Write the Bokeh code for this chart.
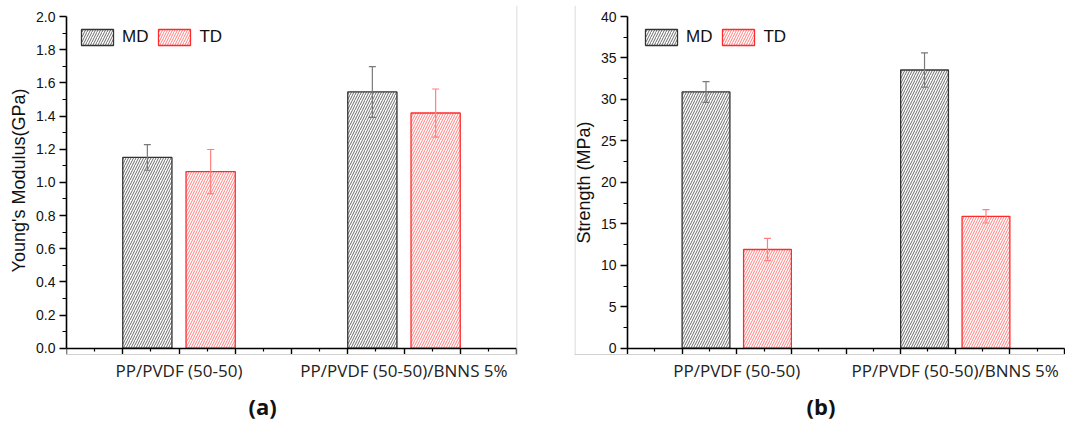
from bokeh.plotting import figure
from bokeh.models import (ColumnDataSource, FixedTicker, Whisker, TeeHead, Span, Title,
                          Legend, LegendItem, PrintfTickFormatter, Range1d, LinearAxis)
from bokeh.layouts import row
from bokeh.embed import file_html
from bokeh.resources import INLINE

# ---------------- data ----------------
categories = ["PP/PVDF (50-50)", "PP/PVDF (50-50)/BNNS 5%"]
series = ["MD", "TD"]

modulus_md = [1.15, 1.545]
modulus_md_err = [0.077, 0.153]
modulus_td = [1.065, 1.418]
modulus_td_err = [0.133, 0.145]

strength_md = [30.9, 33.55]
strength_md_err = [1.25, 2.07]
strength_td = [11.9, 15.9]
strength_td_err = [1.35, 0.8]

modulus_ticks = [0.0, 0.2, 0.4, 0.6, 0.8, 1.0, 1.2, 1.4, 1.6, 1.8, 2.0]
strength_ticks = [0, 5, 10, 15, 20, 25, 30, 35, 40]
panel_labels = ["(a)", "(b)"]
y_titles = ["Young's Modulus(GPa)", "Strength (MPa)"]

# ---------------- styling / layout constants ----------------
GROUP_POS = [2, 6]
OFFSET = 0.5625
BAR_W = 0.875
MD_LINE, MD_HATCH, MD_ERR = "#333333", "#5a5a5a", "#7a7a7a"
TD_LINE, TD_HATCH, TD_ERR = "#ff2b2b", "#ff7070", "#ff8080"
GRAY = "#d0d0d0"
SANS = "Liberation Sans"
H = 425
FRAME_TOP, FRAME_BOTTOM = 5, 355      # canvas px of frame
AXIS_TOP, AXIS_ZERO = 16.0, 347.7     # canvas px of y max and y = 0
GRAY_Y = 354.0


def make_panel(md, md_err, td, td_err, yticks, ytitle, ylab_fmt, plabel,
               width, left, right, x_axis_px, px_per_x, legend_x,
               gray_x_px, title_offset, fixed_y):
    ymax = yticks[-1]
    ppy = (AXIS_ZERO - AXIS_TOP) / ymax
    frame_left = left
    frame_right = width - right
    x0 = -(x_axis_px - frame_left) / px_per_x
    x1 = (frame_right - x_axis_px) / px_per_x
    y0 = -(FRAME_BOTTOM - AXIS_ZERO) / ppy
    y1 = ymax + (AXIS_TOP - FRAME_TOP) / ppy

    p = figure(width=width, height=H, output_backend="svg", toolbar_location=None,
               x_range=Range1d(x0, x1), y_range=Range1d(y0, y1),
               min_border_left=left, min_border_right=right,
               min_border_top=FRAME_TOP, min_border_bottom=H - FRAME_BOTTOM)
    p.background_fill_color = "white"
    p.border_fill_color = "white"
    p.outline_line_color = None
    p.grid.visible = False

    # light gray borders of the original picture
    p.add_layout(Span(location=(gray_x_px - x_axis_px) / px_per_x, dimension="height",
                      line_color=GRAY, line_width=1))
    p.add_layout(Span(location=-(GRAY_Y - AXIS_ZERO) / ppy, dimension="width",
                      line_color=GRAY, line_width=1))

    items = []
    for vals, errs, sgn, lc, hc, ec, name in [
        (md, md_err, -1, MD_LINE, MD_HATCH, MD_ERR, series[0]),
        (td, td_err, 1, TD_LINE, TD_HATCH, TD_ERR, series[1]),
    ]:
        xs = [g + sgn * OFFSET for g in GROUP_POS]
        src = ColumnDataSource(dict(
            x=xs, top=vals,
            upper=[v + e for v, e in zip(vals, errs)],
            lower=[v - e for v, e in zip(vals, errs)]))
        r = p.vbar(x="x", top="top", width=BAR_W, source=src,
                   fill_color="white", line_color=lc, line_width=1.3,
                   hatch_pattern="/", hatch_color=hc, hatch_scale=5,
                   hatch_weight=0.9)
        items.append(LegendItem(label=name, renderers=[r]))
        w = Whisker(base="x", upper="upper", lower="lower", source=src,
                    line_color=ec, line_width=1.2, level="overlay",
                    upper_head=TeeHead(size=7, line_color=ec, line_width=1.2),
                    lower_head=TeeHead(size=7, line_color=ec, line_width=1.2))
        p.add_layout(w)

    fh = FRAME_BOTTOM - FRAME_TOP
    legend = Legend(items=items, location=(legend_x, fh - (26.7 - FRAME_TOP) - 20),
                    orientation="horizontal",
                    glyph_width=40, glyph_height=20, label_standoff=5, spacing=6,
                    padding=0, margin=0, border_line_color=None,
                    background_fill_alpha=0, label_text_font=SANS,
                    label_text_font_size="17px", label_text_color="#111111")
    p.add_layout(legend)

    # y axis
    ya = p.yaxis[0]
    ya.ticker = FixedTicker(ticks=yticks,
                            minor_ticks=[(a + b) / 2 for a, b in zip(yticks[:-1], yticks[1:])])
    ya.formatter = PrintfTickFormatter(format=ylab_fmt)
    ya.bounds = (0, ymax)
    if fixed_y:
        ya.fixed_location = 0
    ya.axis_label = ytitle
    ya.axis_label_text_font = SANS
    ya.axis_label_text_font_size = "18px"
    ya.axis_label_text_font_style = "normal"
    ya.axis_label_text_color = "#111111"
    ya.axis_label_standoff = 4
    ya.major_label_text_font = SANS
    ya.major_label_text_font_size = "14px"
    ya.major_label_text_color = "#111111"
    ya.major_label_standoff = 4
    ya.major_tick_out = 7
    ya.major_tick_in = 0
    ya.minor_tick_out = 4
    ya.minor_tick_in = 0
    ya.axis_line_width = 1.6
    ya.major_tick_line_width = 1.4
    ya.minor_tick_line_width = 1.2

    # x axis (line and ticks, at y = 0)
    xa = p.xaxis[0]
    xa.ticker = FixedTicker(ticks=list(range(0, 9)),
                            minor_ticks=[i + 0.5 for i in range(8)])
    xa.bounds = (0, 8)
    xa.fixed_location = 0
    xa.major_label_overrides = {i: "" for i in range(0, 9)}
    xa.major_label_text_font_size = "1px"
    xa.major_label_standoff = 0
    xa.major_tick_out = 6
    xa.major_tick_in = 0
    xa.minor_tick_out = 3
    xa.minor_tick_in = 0
    xa.axis_line_width = 1.6
    xa.major_tick_line_width = 1.4
    xa.minor_tick_line_width = 1.2

    # category labels axis
    ca = LinearAxis(ticker=FixedTicker(ticks=GROUP_POS, minor_ticks=[]),
                    major_label_overrides={g: c for g, c in zip(GROUP_POS, categories)},
                    axis_line_color=None, major_tick_line_color=None,
                    minor_tick_line_color=None, major_tick_out=0, major_tick_in=0,
                    minor_tick_out=0, minor_tick_in=0, major_label_standoff=3,
                    major_label_text_font="Open Sans", major_label_text_font_size="17px",
                    major_label_text_color="#222222")
    p.add_layout(ca, "below")

    t = Title(text=plabel, align="left", offset=title_offset, text_font="Open Sans",
              text_font_size="22px", text_font_style="bold", text_color="#111111",
              standoff=9)
    p.add_layout(t, "below")
    return p


p1 = make_panel(modulus_md, modulus_md_err, modulus_td, modulus_td_err,
                modulus_ticks, y_titles[0], "%.1f", panel_labels[0],
                width=520, left=66, right=3, x_axis_px=66, px_per_x=56.25,
                legend_x=11, gray_x_px=516.5, title_offset=182, fixed_y=False)
p2 = make_panel(strength_md, strength_md_err, strength_td, strength_td_err,
                strength_ticks, y_titles[1], "%d", panel_labels[1],
                width=545, left=54, right=0, x_axis_px=627 - 520, px_per_x=54.625,
                legend_x=67, gray_x_px=574.5 - 520, title_offset=232, fixed_y=True)

layout = row(p1, p2)
open("out.html", "w").write(file_html(layout, INLINE))
